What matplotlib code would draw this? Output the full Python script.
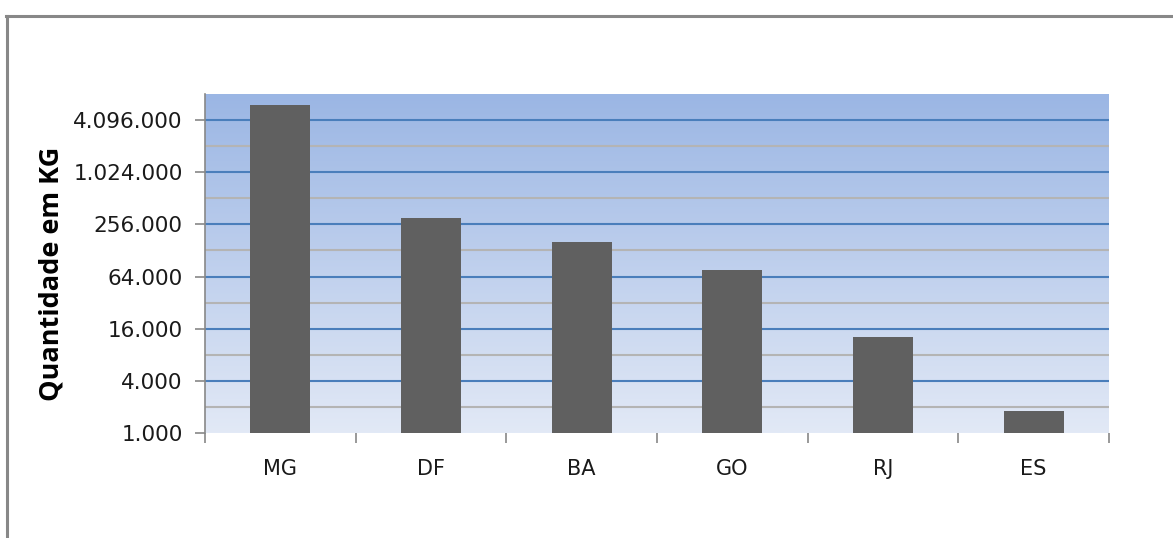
import numpy as np
import matplotlib
matplotlib.use("Agg")
import matplotlib.pyplot as plt
from matplotlib.lines import Line2D
from matplotlib.ticker import FixedLocator, NullFormatter

# Quantities per state (kg)
estados = ["MG", "DF", "BA", "GO", "RJ", "ES"]
quantidades = [6150000, 300000, 159000, 77000, 12900, 1800]
major_ticks = [1000, 4000, 16000, 64000, 256000, 1024000, 4096000]
major_labels = ["1.000", "4.000", "16.000", "64.000", "256.000", "1.024.000", "4.096.000"]
minor_ticks = [2000, 8000, 32000, 128000, 512000, 2048000]
y_max = 8192000

W, H = 1173, 538
fig = plt.figure(figsize=(W / 100, H / 100), dpi=100)
fig.patch.set_facecolor("white")

# outer frame (top and left edges)
fig.add_artist(Line2D([6 / W, 1.0], [1 - 15.5 / H, 1 - 15.5 / H], color="#888888", lw=2.2))
fig.add_artist(Line2D([6.5 / W, 6.5 / W], [0, 1 - 15.5 / H], color="#888888", lw=2.2))

ax = fig.add_axes([205 / W, 1 - 433 / H, 904 / W, 339 / H])
ax.set_yscale("log", base=2)
ax.set_xlim(0, len(estados))

# vertical gradient background
top = np.array([0x9b, 0xb6, 0xe4]) / 255.0
bot = np.array([0xe2, 0xe9, 0xf6]) / 255.0
t = np.linspace(0, 1, 256)[:, None]
grad = (top[None, :] * (1 - t) + bot[None, :] * t)[:, None, :]
ax.imshow(grad, extent=[0, 1, 0, 1], transform=ax.transAxes, aspect="auto", zorder=0)
ax.set_facecolor("none")

# grid lines
for v in minor_ticks:
    ax.axhline(v, color="#b4b4b4", lw=1.5, zorder=1)
for v in major_ticks[1:]:
    ax.axhline(v, color="#4a7ebb", lw=1.5, zorder=1)

x = np.arange(len(estados)) + 0.5
ax.bar(x, quantidades, width=0.4, color="#606060", zorder=2)
ax.set_ylim(1000, y_max)

# y axis
ax.yaxis.set_major_locator(FixedLocator(major_ticks))
ax.set_yticklabels(major_labels)
ax.yaxis.set_minor_locator(FixedLocator([]))
ax.yaxis.set_minor_formatter(NullFormatter())
ax.tick_params(axis="y", which="major", length=7, width=1.2, color="#888888",
               pad=9, labelsize=15.5, labelcolor="#1a1a1a")

# x axis: ticks at category boundaries, labels at centres
ax.set_xticks(np.arange(len(estados) + 1))
ax.set_xticklabels([])
ax.set_xticks(x, minor=True)
ax.set_xticklabels(estados, minor=True)
ax.tick_params(axis="x", which="major", length=7, width=1.2, color="#888888")
ax.tick_params(axis="x", which="minor", length=0, pad=19, labelsize=15, labelcolor="#1a1a1a")

for s in ["top", "right", "bottom"]:
    ax.spines[s].set_visible(False)
ax.spines["left"].set_color("#888888")
ax.spines["left"].set_linewidth(1.2)

fig.text(52 / W, 1 - 274 / H, "Quantidade em KG", rotation=90, ha="center", va="center",
         fontsize=19.5, fontweight="bold", family="Open Sans", color="#000000")

fig.savefig("out.png", dpi=100)
